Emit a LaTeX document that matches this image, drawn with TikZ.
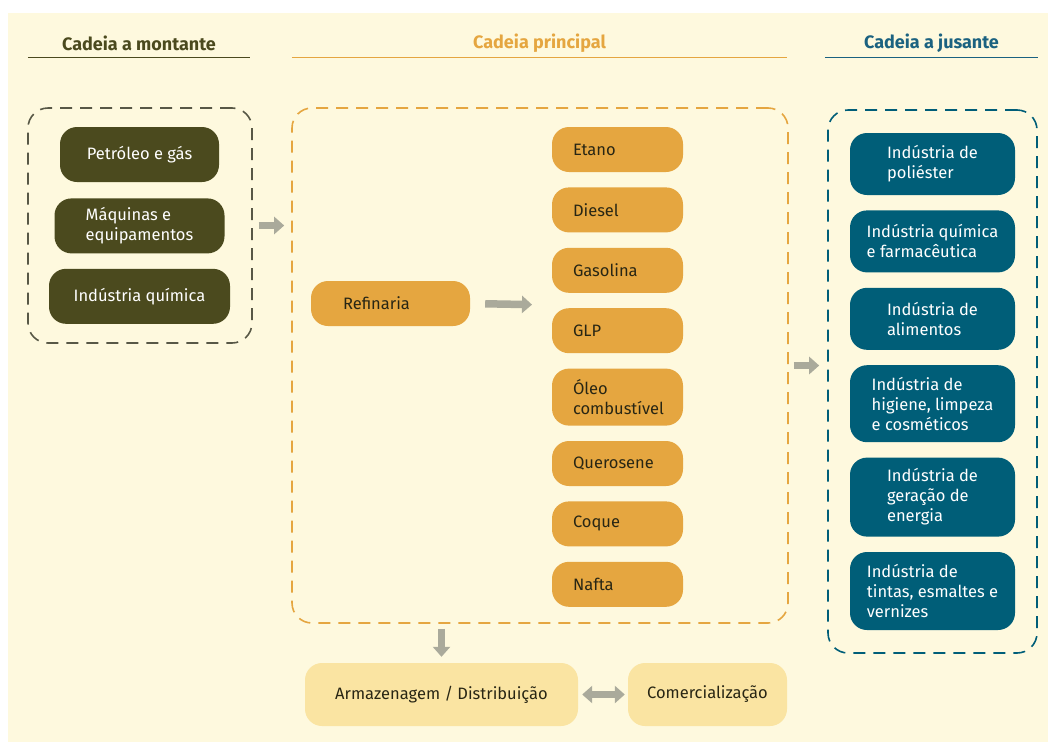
\documentclass[tikz,border=0pt]{standalone}
\usepackage{fontspec}
\setmainfont{Fira Sans}
\usepackage{xcolor}
\usepackage{tikz}
\usetikzlibrary{positioning}
\usetikzlibrary{arrows.meta}

\definecolor{bgcream}{RGB}{254,249,222}
\definecolor{olive}{RGB}{75,74,30}
\definecolor{upgray}{RGB}{88,88,70}
\definecolor{amber}{RGB}{229,166,64}
\definecolor{petrol}{RGB}{0,94,120}
\definecolor{headteal}{RGB}{27,98,128}
\definecolor{sand}{RGB}{250,228,162}
\definecolor{arrowgray}{RGB}{170,170,155}
\definecolor{darktext}{RGB}{40,38,20}

\begin{document}
\begin{tikzpicture}[x=1pt,y=-1pt,font=\fontsize{16.5}{20}\selectfont]
      \tikzstyle{head}=[font=\fontsize{18}{21}\selectfont\bfseries,minimum height=28pt,inner sep=0pt]
      \tikzstyle{chain}=[draw,dashed,dash pattern=on 12pt off 8pt,line width=1.6pt,rounded corners=20pt]
      \tikzstyle{upnode}=[fill=olive,text=white,rounded corners=17pt,minimum height=55pt,align=left]
      \tikzstyle{prod}=[fill=amber,text=darktext,rounded corners=17pt,minimum height=45pt,
                        text width=89pt,inner xsep=21pt,align=left]
      \tikzstyle{downnode}=[fill=petrol,text=white,rounded corners=17pt,minimum width=165pt,
                            minimum height=62pt,align=left]
      \tikzstyle{logi}=[fill=sand,text=darktext,rounded corners=17pt,minimum height=63pt]
      \tikzstyle{flow}=[-{Triangle[length=10pt,width=17pt]},line width=7.5pt,draw=arrowgray]

      % background
      \useasboundingbox (0,0) rectangle (1048,742);
      \fill[bgcream] (8,13) rectangle (1048,742);

      % headers
      \node[head,text=olive,minimum width=222pt]    (hup)   at (139,43)   {Cadeia a montante};
      \node[head,text=amber,minimum width=495pt]    (hmain) at (539.5,43) {Cadeia principal};
      \node[head,text=headteal,minimum width=213pt] (hdown) at (931.5,43) {Cadeia a jusante};
      \draw[olive,line width=1.4pt]    (hup.south west)   -- (hup.south east);
      \draw[amber,line width=1.4pt]    (hmain.south west) -- (hmain.south east);
      \draw[headteal,line width=1.4pt] (hdown.south west) -- (hdown.south east);

      % dashed frames
      \node[chain,draw=upgray,minimum width=224pt,minimum height=235pt] (up)   at (140,225.5) {};
      \node[chain,draw=amber,minimum width=496pt,minimum height=515pt]  (main) at (540,365.5) {};
      \node[chain,draw=petrol,minimum width=209pt,minimum height=543pt] (down) at (932.5,381.5) {};

      % upstream
      \node[upnode,minimum width=159pt] (pet) at (139.5,154.5)      {Petróleo e gás};
      \node[upnode,minimum width=170pt] (maq) [below=16pt of pet]   {Máquinas e\\equipamentos};
      \node[upnode,minimum width=181pt] (qui) [below=15pt of maq]   {Indústria química};

      % main chain
      \node[prod,text width=95pt,inner xsep=32pt] (ref) at (390.5,303.5) {Refinaria};
      \coordinate (out) at (552,305);
      \node[prod] (eta) at (617.5,149.5)          {Etano};
      \node[prod] (die) [below=15pt of eta]       {Diesel};
      \node[prod] (gas) [below=15pt of die]       {Gasolina};
      \node[prod] (glp) [below=15pt of gas]       {GLP};
      \node[prod,minimum height=57pt] (ole) [below=15pt of glp] {Óleo\\combustível};
      \node[prod] (que) [below=15pt of ole]       {Querosene};
      \node[prod] (coq) [below=15pt of que]       {Coque};
      \node[prod] (naf) [below=15pt of coq]       {Nafta};

      % downstream
      \node[downnode] (pol) at (932.5,164)         {Indústria de\\poliéster};
      \node[downnode] (far) [below=15pt of pol]    {Indústria química\\e farmacêutica};
      \node[downnode] (ali) [below=15pt of far]    {Indústria de\\alimentos};
      \node[downnode,minimum height=77pt] (hig) [below=15pt of ali] {Indústria de\\higiene, limpeza\\e cosméticos};
      \node[downnode,minimum height=79pt] (ene) [below=15pt of hig] {Indústria de\\geração de\\energia};
      \node[downnode,minimum height=78pt] (tin) [below=15pt of ene] {Indústria de\\tintas, esmaltes e\\vernizes};

      % logistics
      \node[logi,minimum width=273pt] (arm) at (441.5,694.5) {Armazenagem / Distribuição};
      \node[logi,minimum width=159pt] (com) at (707.5,694.5) {Comercialização};

      \draw[flow,shorten <=6pt,shorten >=7pt]  (up.east) -- (up.east -| main.west);
      \draw[flow,shorten <=15pt,shorten >=20pt] (ref.east) -- (out);
      \draw[flow,shorten <=5pt,shorten >=8pt]  (main.east) -- (main.east -| down.west);
      \draw[flow,shorten <=5pt,shorten >=6pt]  (main.south -| arm.north) -- (arm.north);
      \draw[flow,{Triangle[length=10pt,width=17pt]}-{Triangle[length=10pt,width=17pt]},
            shorten <=4pt,shorten >=3pt] (arm.east) -- (com.west);
\end{tikzpicture}
\end{document}
